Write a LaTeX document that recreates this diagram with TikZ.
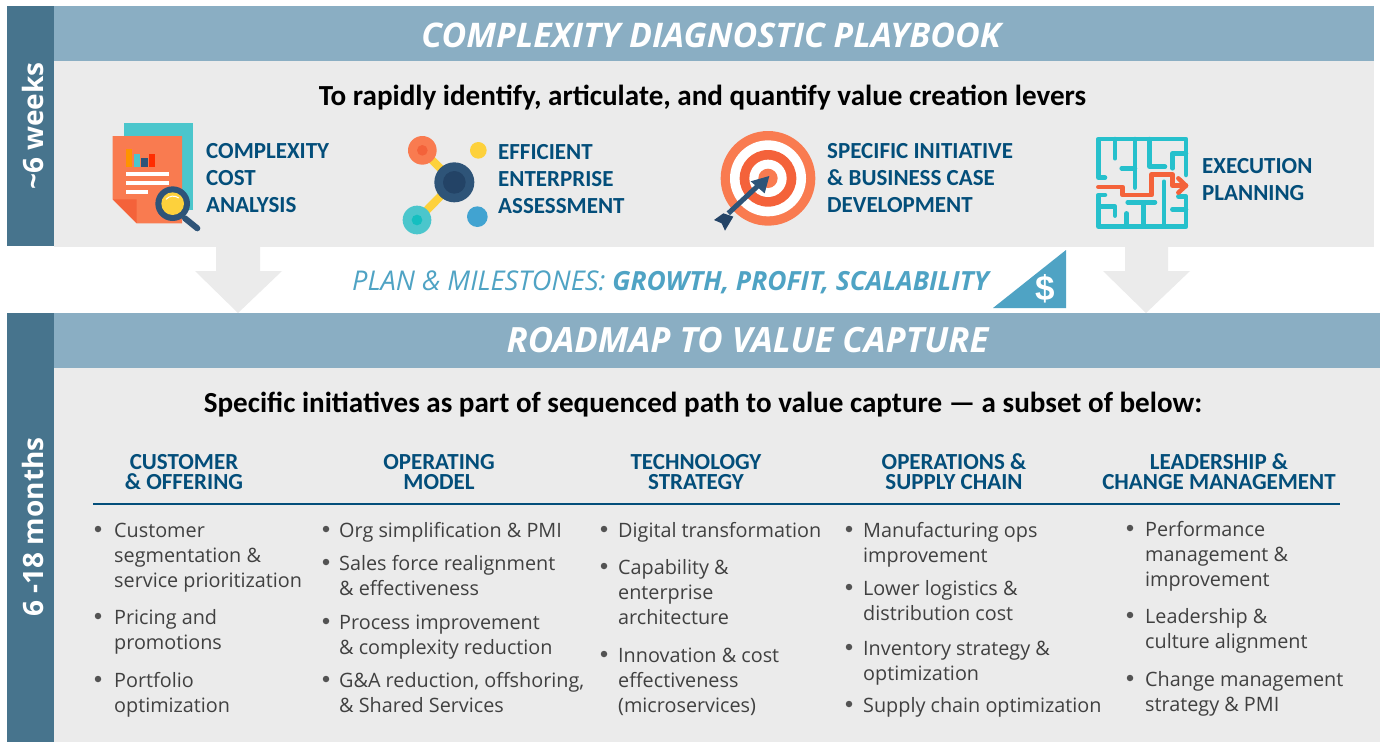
\documentclass[tikz,border=0pt]{standalone}
\usepackage{fontspec}
\setmainfont{Open Sans}
\newfontfamily\cali{Carlito}
\newfontfamily\libs{Liberation Sans}
\definecolor{barc}{HTML}{47748D}
\definecolor{bandc}{HTML}{8AAEC3}
\definecolor{bodyc}{HTML}{EBEBEB}
\definecolor{navy}{HTML}{034E7A}
\definecolor{txt}{HTML}{404040}
\definecolor{sky}{HTML}{4FA3C4}
\definecolor{orng}{HTML}{F97B50}
\definecolor{orng2}{HTML}{F4623A}
\definecolor{teal2}{HTML}{4BC6CC}
\definecolor{teal3}{HTML}{14BFC0}
\definecolor{dblue}{HTML}{2E5478}
\definecolor{dblue2}{HTML}{234366}
\definecolor{yel}{HTML}{FDD13C}
\definecolor{mazec}{HTML}{26C0CC}
\definecolor{cblue}{HTML}{41A3D1}
\tikzset{
  bulnode/.style={anchor=base west,inner sep=0pt,text=txt,font=\fontsize{19.8}{24}\selectfont},
  dotnode/.style={circle,fill=txt!90,minimum size=6.5pt,inner sep=0pt},
  headnode/.style={anchor=base,inner sep=0pt,text=navy,text height=14.5pt,text depth=0pt,font=\cali\bfseries\fontsize{23}{24}\selectfont},
  iconlab/.style={anchor=base west,inner sep=0pt,text=navy,font=\cali\bfseries\fontsize{23}{24}\selectfont},
  titlenode/.style={inner sep=0pt,text=white,font=\bfseries\itshape\fontsize{#1}{38}\selectfont},
  subnode/.style={anchor=base,inner sep=0pt,text=black,font=\cali\bfseries\fontsize{29.1}{32}\selectfont},
  sidenode/.style={inner sep=0pt,text=white,rotate=90,font=\bfseries\fontsize{28}{32}\selectfont},
  mazew/.style={draw=mazec,line width=4.5pt,line cap=round,line join=round},
  mazep/.style={draw=#1,line width=4.5pt,line cap=round,line join=round},
  icz/.style={x=0.33333pt,y=-0.33333pt}
}
\newcounter{tlc}
\newcommand{\bl}[3]{\stepcounter{tlc}\node[bulnode] (t\arabic{tlc}) at (#1,#2) {#3};}
\newcommand{\dt}[2]{\stepcounter{tlc}\node[dotnode] (t\arabic{tlc}) at (#1,#2-8) {};}
\newcommand{\il}[3]{\stepcounter{tlc}\node[iconlab] (t\arabic{tlc}) at (#1,#2) {#3};}
\newcommand{\hd}[3]{\stepcounter{tlc}\node[headnode] (t\arabic{tlc}) at (#1,#2) {#3};}
\begin{document}
\begin{tikzpicture}[x=1pt,y=-1pt]
\useasboundingbox (0,0) rectangle (1384,742);
\fill[white] (0,0) rectangle (1384,742);
% panels
\fill[bodyc] (54,61) rectangle (1374,247);
\fill[bodyc] (54,368) rectangle (1380,742);
\fill[bandc] (54,6) rectangle (1374,61);
\fill[bandc] (54,313) rectangle (1380,368);
\fill[barc] (7,6) rectangle (54,246);
\fill[barc] (7,313) rectangle (54,742);
% arrows
\fill[bodyc] (216,246) -- (260,246) -- (260,271) -- (282,271) -- (238,313) -- (195,271) -- (216,271) -- cycle;
\fill[bodyc] (1125,246) -- (1168,246) -- (1168,271) -- (1190,271) -- (1146,313) -- (1103,271) -- (1125,271) -- cycle;
% titles
\node[titlenode=33.9] (title1) at (711,35) {COMPLEXITY DIAGNOSTIC PLAYBOOK};
\node[titlenode=34.8] (title2) at (747.5,340) {ROADMAP TO VALUE CAPTURE};
\node[sidenode] (side1) at (33,126) {\textasciitilde6 weeks};
\node[sidenode] (side2) at (33,527) {6 -18 months};
\node[subnode] (sub1) at (702.5,105) {To rapidly identify, articulate, and quantify value creation levers};
\node[subnode] (sub2) at (703,412) {Specific initiatives as part of sequenced path to value capture — a subset of below:};
% plan line
\node[anchor=base west,inner sep=0pt,text=sky,font=\itshape\fontsize{27.2}{30}\selectfont] (plan) at (352,290) {PLAN \& MILESTONES: {\bfseries\fontsize{26.4}{30}\selectfont GROWTH, PROFIT, SCALABILITY}};
\fill[sky] (1066,250) -- (1066,308) -- (993,308) -- cycle;
\node[inner sep=0pt,text=white,font=\libs\bfseries\fontsize{35}{40}\selectfont] (dollar) at (1045,289) {\$};
% icon labels
\il{206}{158}{COMPLEXITY}\il{206}{185}{COST}\il{206}{212}{ANALYSIS}
\il{498}{159}{EFFICIENT}\il{498}{186}{ENTERPRISE}\il{498}{213}{ASSESSMENT}
\il{827}{158}{SPECIFIC INITIATIVE}\il{827}{185}{\& BUSINESS CASE}\il{827}{212}{DEVELOPMENT}
\il{1202}{173}{EXECUTION}\il{1202}{200}{PLANNING}
% document icon
\begin{scope}[shift={(90,110)},icz]
\fill[teal2] (102,40) rectangle (310,300);
\fill[orng] (68,78) -- (276,78) -- (276,340) -- (140,340) -- (68,268) -- cycle;
\fill[orng2] (68,268) -- (140,268) -- (140,340) -- cycle;
\fill[orange!85!yellow] (108,118) rectangle (127,171);
\fill[teal2] (131,131) rectangle (150,171);
\fill[dblue] (154,144) rectangle (173,171);
\fill[red!65!orange] (177,131) rectangle (196,171);
\fill[white] (108,186) rectangle (237,199);
\fill[white] (108,213) rectangle (237,226);
\fill[white] (108,240) rectangle (173,253);
\draw[dblue,line width=6pt,line cap=round] (285,325) -- (322,355);
\fill[dblue] (248,281) circle (52);
\fill[yel] (248,281) circle (34);
\draw[white,line width=1pt] (228,268) .. controls (238,256) and (256,256) .. (266,264);
\end{scope}
% network icon
\begin{scope}[shift={(390,120)},icz]
\draw[yel,line width=8pt] (97,91) -- (193,187) -- (81,300);
\fill[orng] (97,91) circle (43);
\fill[orng2] (97,91) circle (16);
\fill[yel] (265,91) circle (25);
\fill[dblue] (193,187) circle (60);
\fill[dblue2] (193,187) circle (34);
\fill[teal2] (81,300) circle (43);
\fill[teal3] (81,300) circle (16);
\fill[cblue] (262,290) circle (31);
\end{scope}
% target icon
\begin{scope}[shift={(700,120)},icz]
\fill[orng] (204,175) circle (142);
\fill[white] (204,175) circle (114);
\fill[orng2] (204,175) circle (85);
\fill[white] (204,175) circle (56);
\fill[orng] (204,175) circle (29);
\draw[dblue,line width=5pt] (85,280) -- (185,187);
\fill[dblue] (208,168) -- (152,184) -- (194,220) -- cycle;
\fill[dblue2] (42,300) -- (70,280) -- (100,290) -- (75,332) -- (65,310) -- cycle;
\end{scope}
% maze icon
\begin{scope}[shift={(1085,125)},icz]
\draw[mazew] (60,158) -- (40,158) -- (40,42) -- (303,42) -- (303,150);
\draw[mazew] (263,130) -- (263,85) -- (303,85);
\draw[mazew] (60,210) -- (40,210) -- (40,305) -- (303,305) -- (303,215) -- (280,215);
\draw[mazew] (90,42) -- (90,100);
\draw[mazew] (150,42) -- (150,188);
\draw[mazew] (110,130) -- (150,130);
\draw[mazew] (193,42) -- (193,125) -- (240,125);
\draw[mazew] (40,245) -- (90,245) -- (90,272);
\draw[mazew] (128,232) -- (210,232);
\draw[mazew] (175,232) -- (175,305);
\draw[mazew] (125,265) -- (125,305);
\draw[mazew] (237,170) -- (237,305);
\draw[mazew] (303,253) -- (262,253);
\draw[mazep=orng2] (40,186) -- (113,186) -- (113,210) -- (200,210) -- (200,148) -- (262,148) -- (262,182) -- (303,182);
\draw[mazep=orng2] (280,160) -- (303,182) -- (280,203);
\end{scope}
% column headers
\hd{184}{469}{CUSTOMER}\hd{184}{489}{\& OFFERING}
\hd{439}{469}{OPERATING}\hd{439}{489}{MODEL}
\hd{696}{469}{TECHNOLOGY}\hd{696}{489}{STRATEGY}
\hd{954}{469}{OPERATIONS \&}\hd{954}{489}{SUPPLY CHAIN}
\hd{1219}{469}{LEADERSHIP \&}\hd{1219}{489}{CHANGE MANAGEMENT}
\coordinate (ruleL) at (93,504);
\coordinate (ruleR) at (1340,504);
\draw[navy,line width=1.5pt] (ruleL) -- (ruleR);
% column 1
\dt{98}{537}\bl{114}{537}{Customer}\bl{114}{562}{segmentation \&}\bl{114}{587}{service prioritization}
\dt{98}{624}\bl{114}{624}{Pricing and}\bl{114}{649}{promotions}
\dt{98}{687}\bl{114}{687}{Portfolio}\bl{114}{712}{optimization}
% column 2
\dt{326}{537}\bl{339}{537}{Org simplification \& PMI}
\dt{326}{570}\bl{339}{570}{Sales force realignment}\bl{339}{595}{\& effectiveness}
\dt{326}{629}\bl{339}{629}{Process improvement}\bl{339}{654}{\& complexity reduction}
\dt{326}{687}\bl{339}{687}{G\&A reduction, offshoring,}\bl{339}{712}{\& Shared Services}
% column 3
\dt{604}{537}\bl{618}{537}{Digital transformation}
\dt{604}{574}\bl{618}{574}{Capability \&}\bl{618}{599}{enterprise}\bl{618}{624}{architecture}
\dt{604}{662}\bl{618}{662}{Innovation \& cost}\bl{618}{687}{effectiveness}\bl{618}{712}{(microservices)}
% column 4
\dt{849}{537}\bl{863}{537}{Manufacturing ops}\bl{863}{562}{improvement}
\dt{849}{595}\bl{863}{595}{Lower logistics \&}\bl{863}{620}{distribution cost}
\dt{849}{655}\bl{863}{655}{Inventory strategy \&}\bl{863}{680}{optimization}
\dt{849}{712}\bl{863}{712}{Supply chain optimization}
% column 5
\dt{1130}{536}\bl{1145}{536}{Performance}\bl{1145}{561}{management \&}\bl{1145}{586}{improvement}
\dt{1130}{623}\bl{1145}{623}{Leadership \&}\bl{1145}{648}{culture alignment}
\dt{1130}{686}\bl{1145}{686}{Change management}\bl{1145}{711}{strategy \& PMI}
\end{tikzpicture}
\end{document}
